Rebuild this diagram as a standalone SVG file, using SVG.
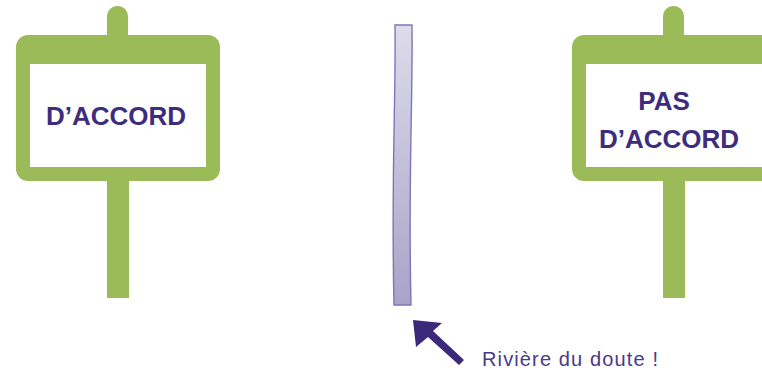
<svg xmlns="http://www.w3.org/2000/svg" width="762" height="378" viewBox="0 0 762 378">
<defs>
<linearGradient id="riv" x1="0" y1="0" x2="0" y2="1">
<stop offset="0" stop-color="#dcdcea"/>
<stop offset="1" stop-color="#a9a3c9"/>
</linearGradient>
<style>
.g{fill:#9bbb59}
.w{fill:#ffffff}
.t{font-family:"Liberation Sans",Arial,sans-serif;font-weight:bold;fill:#3d2d7c;text-anchor:middle}
.c{font-family:"Liberation Sans",Arial,sans-serif;fill:#4a3a8a}
</style>
</defs>
<rect width="762" height="378" fill="#ffffff"/>
<g id="sign-left">
<rect class="g" x="107" y="6" width="21" height="40" rx="10"/>
<rect class="g" x="107" y="170" width="22" height="128"/>
<rect class="g" x="16" y="35" width="204" height="146" rx="12"/>
<rect class="w" x="30" y="64" width="176" height="103"/>
<text class="t" x="116" y="125" font-size="26">D’ACCORD</text>
</g>
<g id="sign-right">
<rect class="g" x="663" y="6" width="21" height="40" rx="10"/>
<rect class="g" x="663" y="170" width="22" height="128"/>
<rect class="g" x="572" y="35" width="204" height="146" rx="12"/>
<rect class="w" x="586" y="64" width="176" height="103"/>
<text class="t" x="664" y="110" font-size="26">PAS</text>
<text class="t" x="669" y="148" font-size="26">D’ACCORD</text>
</g>
<g id="river">
<path d="M395,25 L412,25 C413,100 408,180 411,305 L394,305 C391,180 396,100 395,25 Z" fill="url(#riv)" stroke="#8274b6" stroke-width="1.4"/>
</g>
<g id="connectors">
<polygon points="413,320 442,323 433,331 464,360 459,365 428,337 416,347" fill="#3b2a7a"/>
</g>
<g id="label">
<text class="c" x="482" y="366" font-size="20" textLength="176" lengthAdjust="spacing">Rivière du doute !</text>
</g>
</svg>
